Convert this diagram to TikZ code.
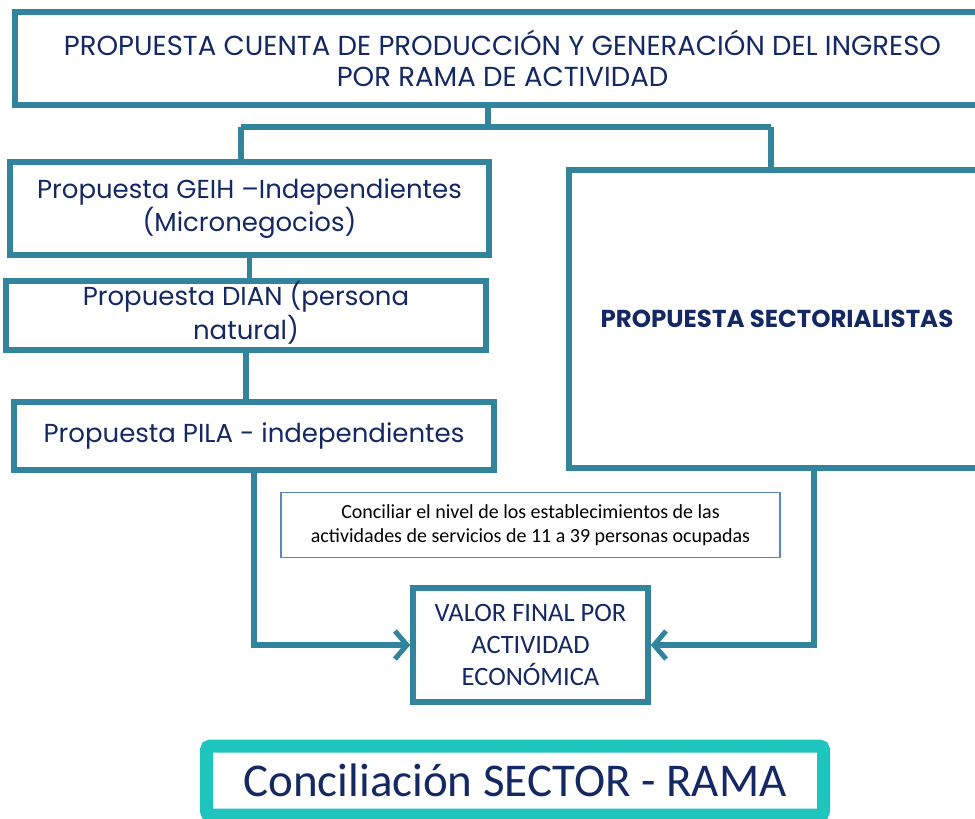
\documentclass[tikz,border=0pt]{standalone}
\usepackage{fontspec}
\setmainfont{Poppins}
\newfontfamily\calfont{Carlito}
\usetikzlibrary{arrows.meta}
\definecolor{tealline}{RGB}{49,132,155}
\definecolor{navytext}{RGB}{20,40,100}
\definecolor{turq}{RGB}{30,197,191}
\definecolor{thinblue}{RGB}{91,134,196}

\begin{document}
\begin{tikzpicture}[x=1pt,y=-1pt,
    box/.style={draw=tealline, line width=5.5pt, fill=white, text=navytext, align=center, inner sep=0pt},
    conn/.style={draw=tealline, line width=5.5pt},
    arr/.style={conn, -{Straight Barb[length=12pt, width=28pt, line width=5pt]}}]
  \useasboundingbox (0,0) rectangle (975,819);

  % propuestas
  \node[box, minimum width=975pt, minimum height=93pt, font={\fontsize{27.5}{31}\selectfont}] (cuenta) at (502.5,58.5)
    {PROPUESTA CUENTA DE PRODUCCIÓN Y GENERACIÓN DEL INGRESO\\POR RAMA DE ACTIVIDAD};
  \node[box, minimum width=479pt, minimum height=93pt, font={\fontsize{26}{33}\selectfont}] (geih) at (249.5,208.5)
    {Propuesta GEIH –Independientes\\(Micronegocios)};
  \node[box, minimum width=480pt, minimum height=69pt, font={\fontsize{26}{32}\selectfont}] (dian) at (246,315.5)
    {\raisebox{-4pt}{\begin{tabular}{@{}c@{}}Propuesta DIAN (persona\\natural)\end{tabular}}};
  \node[box, minimum width=480pt, minimum height=68pt, font={\fontsize{26}{33}\selectfont}] (pila) at (254,436)
    {Propuesta PILA - independientes};
  \node[box, minimum width=416pt, minimum height=298pt, font={\fontsize{24.5}{30}\selectfont\bfseries}] (sect) at (777,319)
    {PROPUESTA SECTORIALISTAS};

  % conciliacion
  \node[draw=thinblue, line width=1.2pt, fill=white, align=center, minimum width=499pt, minimum height=65pt,
    font={\calfont\fontsize{20}{24}\selectfont}] (nivel) at (530.5,525)
    {Conciliar el nivel de los establecimientos de las\\actividades de servicios de 11 a 39 personas ocupadas};
  \node[box, minimum width=235pt, minimum height=114pt, font={\calfont\fontsize{26.5}{32}\selectfont}] (valor) at (530.5,645)
    {VALOR FINAL POR\\ACTIVIDAD\\ECONÓMICA};
  \node[box, draw=turq, line width=13pt, rounded corners=4pt, minimum width=617pt, minimum height=69pt,
    font={\calfont\fontsize{47}{56}\selectfont}] (rama) at (515,780.5)
    {Conciliación SECTOR - RAMA};

  % conectores
  \coordinate (j) at (488,127);
  \coordinate (jl) at (241,127);
  \coordinate (jr) at (771,127);
  \draw[conn] (cuenta.south -| j) -- (j);
  \draw[conn] (jl) -- (jr);
  \draw[conn] (jl) -- (jl |- geih.north);
  \draw[conn] (jr) -- (jr |- sect.north);
  \draw[conn] (geih.south) -- (geih.south |- dian.north);
  \draw[conn] (dian.south) -- (dian.south |- pila.north);
  \draw[arr] (pila.south) |- (valor.west);
  \draw[arr] (sect.south -| 814,0) |- (valor.east);
\end{tikzpicture}
\end{document}
